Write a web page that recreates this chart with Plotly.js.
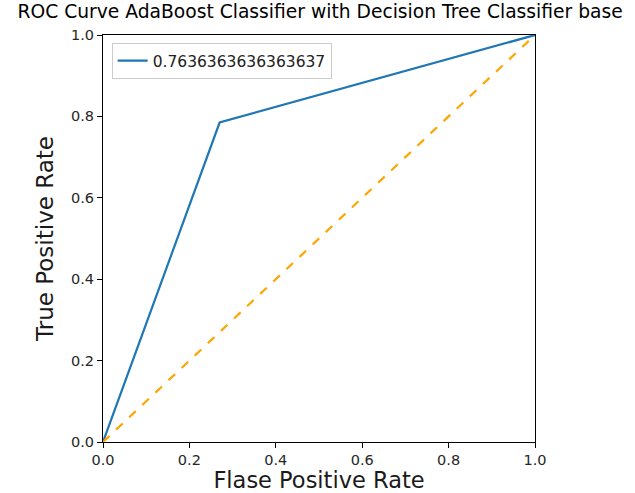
<!DOCTYPE html>
<html><head><meta charset="utf-8">
<script src="https://cdn.plot.ly/plotly-3.0.1.min.js"></script>
<style>body{margin:0;background:#fff}#chart{width:635px;height:493px}</style>
</head><body><div id="chart"></div>
<script>
const fpr = [0.0, 0.27, 1.0];
const tpr = [0.0, 0.785, 1.0];
const aucLabel = "0.7636363636363637";
const diagX = [0, 1];
const diagY = [0, 1];
const titleText = "ROC Curve AdaBoost Classifier with Decision Tree Classifier base";
const xTitle = "Flase Positive Rate";
const yTitle = "True Positive Rate";
const tickVals = [0, 0.2, 0.4, 0.6, 0.8, 1.0];
const tickText = ["0.0", "0.2", "0.4", "0.6", "0.8", "1.0"];

const font = "DejaVu Sans, sans-serif";
const traces = [
  {x: fpr, y: tpr, mode: "lines", name: aucLabel, line: {color: "#1f77b4", width: 2.2}},
  {x: diagX, y: diagY, mode: "lines", showlegend: false, line: {color: "orange", width: 2.2, dash: "dash"}}
];
const axisCommon = {
  range: [0, 1], tickvals: tickVals, ticktext: tickText, showgrid: false, zeroline: false,
  showline: true, linecolor: "black", linewidth: 1, mirror: true, ticks: "outside", ticklen: 5,
  tickcolor: "black", tickfont: {family: font, size: 14.5, color: "#262626"}
};
const layout = {
  width: 635, height: 493,
  margin: {l: 103, r: 100, t: 35, b: 51},
  paper_bgcolor: "white", plot_bgcolor: "white",
  title: {text: titleText, font: {family: font, size: 18.7, color: "black"}, x: 0.5025, xref: "paper", y: 0.99, yanchor: "top"},
  xaxis: Object.assign({}, axisCommon, {title: {text: xTitle, font: {family: font, size: 22.5, color: "#1a1a1a"}, standoff: 7}}),
  yaxis: Object.assign({}, axisCommon, {title: {text: yTitle, font: {family: font, size: 23, color: "#1a1a1a"}, standoff: 10}}),
  legend: {x: 0.02, y: 0.98, xanchor: "left", yanchor: "top", bgcolor: "white", bordercolor: "#ccc", borderwidth: 1,
    font: {family: font, size: 15.5, color: "#222"}},
  showlegend: true
};
Plotly.newPlot("chart", traces, layout, {displayModeBar: false, staticPlot: true});
</script></body></html>
